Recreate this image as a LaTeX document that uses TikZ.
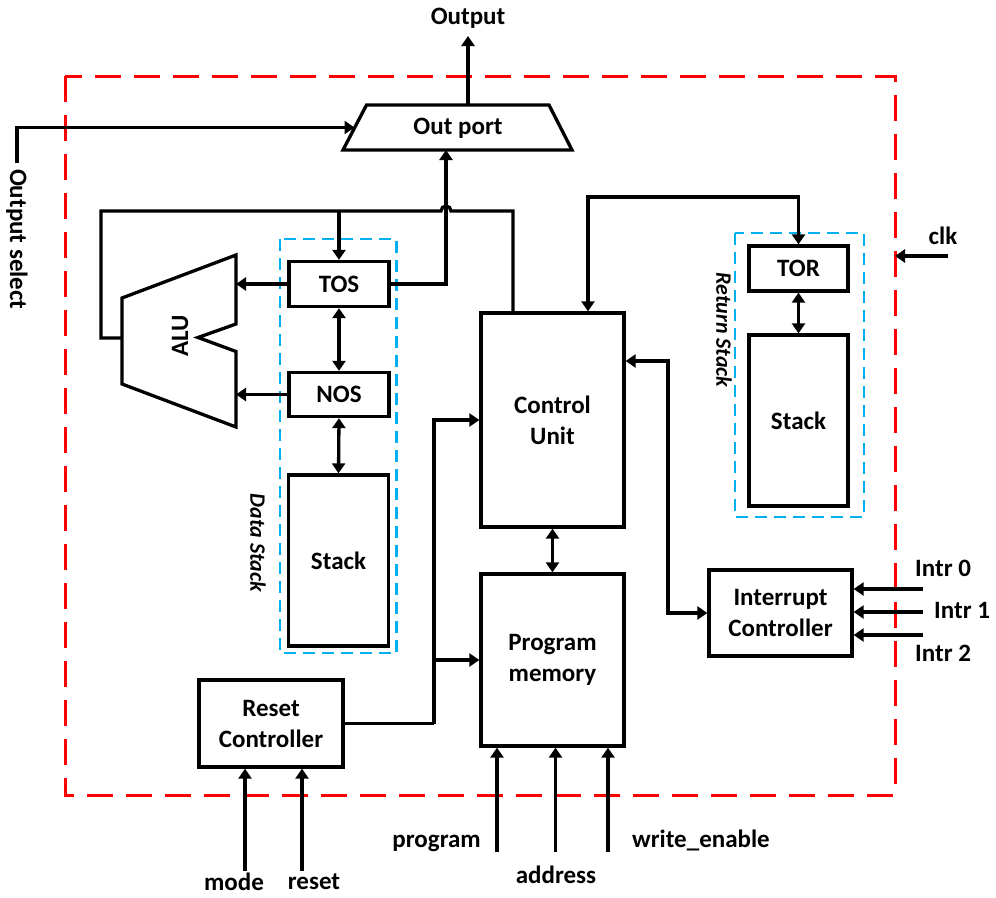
\documentclass[tikz,border=0pt]{standalone}
\usepackage{fontspec}
\setmainfont{Carlito}
\usetikzlibrary{arrows.meta}
\definecolor{dashred}{RGB}{255,0,0}
\definecolor{dashblue}{RGB}{0,176,240}
\begin{document}
\begin{tikzpicture}[x=1pt,y=-1pt,
  every node/.style={font=\fontsize{25}{31}\selectfont\bfseries, inner sep=0pt},
  box/.style={draw, line width=3.3pt, align=center},
  blk/.style={line width=3.3pt},
  >={Triangle[length=10pt,width=13pt]},
  arr/.style={blk,->},
  darr/.style={blk,<->},
  side/.style={font=\fontsize{22}{26}\selectfont\bfseries\itshape},
  redbox/.style={draw=dashred, line width=3pt, dash pattern=on 26pt off 13pt},
  bluebox/.style={draw=dashblue, line width=2.6pt, dash pattern=on 12pt off 7pt}
]
\useasboundingbox (0,0) rectangle (996,897);

% dashed frames
\draw[redbox] (65,76) rectangle (895,795);
\draw[bluebox] (280,239) rectangle (396.5,653);
\draw[bluebox] (735,233) rectangle (864,517);

% Out port
\draw[blk, line join=miter] (343,150) -- (366.5,105) -- (549,105) -- (572,150) -- cycle;
\node (outport) at (458,128) {Out port};
\coordinate (opin) at (354.5,127.5);
\coordinate (opbot) at (446,150);
\coordinate (optop) at (468,105);
\coordinate (outtip) at (468,36);
\node (outlbl) at (468,18) {Output};
\draw[arr] (optop) -- (outtip);

% Output select
\node[rotate=-90, anchor=west, outer sep=6pt] (osel) at (17,163) {Output select};
\draw[arr] (osel.west) |- (opin);

% ALU
\draw[blk, line join=miter] (236,255) -- (236,324) -- (198,337.5) -- (236,351.5) -- (236,427) -- (122,384) -- (122,298) -- cycle;
\coordinate (alutr) at (236,255);
\coordinate (aluin) at (122,338);
\node[rotate=90] (alu) at (180,336) {ALU};

% Data stack
\node[box, minimum width=100pt, minimum height=45pt] (tos) at (339,284) {TOS};
\node[box, minimum width=100pt, minimum height=44pt] (nos) at (339,394.5) {NOS};
\node[box, minimum width=100pt, minimum height=171pt] (dstk) at (338.5,560.5) {Stack};
\node[side, rotate=-90] (dslbl) at (258,543) {Data Stack};

% Control unit, program memory
\node[box, minimum width=143pt, minimum height=214pt] (cu) at (552.5,420) {Control\\Unit};
\node[box, minimum width=143pt, minimum height=172pt] (pm) at (552.5,660) {Program\\memory};

% Reset controller
\node[box, minimum width=144pt, minimum height=87pt] (rst) at (271,723.5) {Reset\\Controller};

% Interrupt controller
\node[box, minimum width=143pt, minimum height=86pt] (intc) at (780.5,613) {Interrupt\\Controller};

% Return stack
\node[box, minimum width=99pt, minimum height=45pt] (tor) at (798.5,268.5) {TOR};
\node[box, minimum width=99pt, minimum height=171pt] (rstk) at (798.5,420.5) {Stack};
\node[side, rotate=-90] (rslbl) at (724,330) {Return Stack};

% Data stack connections
\draw[arr] (tos.west) -- (tos.west -| alutr);
\draw[arr] (nos.west) -- (nos.west -| alutr);
\draw[darr] (tos.south) -- (nos.north);
\draw[darr] (nos.south) -- (dstk.north);
\draw[arr] (tos.east) -| (opbot);

% feedback loop ALU -> TOS / control unit (hop over the out-port line)
\coordinate (fbl) at (101,211);
\coordinate (fbr) at (513,211);
\coordinate (fbt) at (339,211);
\draw[blk, line join=miter] (aluin) -- (aluin -| fbl) -- (fbl) -- (441,211)
  arc[start angle=180, end angle=0, radius=5pt] -- (fbr) -- (fbr |- cu.north);
\draw[arr] (fbt) -- (tos.north);

% Control unit <-> TOR
\coordinate (tj) at (588,197);
\draw[darr] (tor.north) |- (tj) -- (tj |- cu.north);
\draw[darr] (tor.south) -- (rstk.north);

% Control unit <-> program memory
\draw[darr] (cu.south) -- (pm.north);

% Reset controller to CU and PM
\coordinate (rj) at (434,723.5);
\draw[blk] (rst.east) -- (rj);
\draw[arr] (rj) |- (cu.west);
\draw[arr] (rj |- pm.west) -- (pm.west);

% CU <-> interrupt controller
\coordinate (cuic) at (668,361);
\draw[darr] (cu.east |- cuic) -- (cuic) |- (intc.west);

% clk
\node (clk) at (943,236) {clk};
\coordinate (clkin) at (948,256);
\coordinate (clktip) at (895,256);
\draw[arr] (clkin) -- (clktip);

% interrupts
\coordinate (i0) at (923,589);
\coordinate (i1) at (923,612);
\coordinate (i2) at (923,635);
\draw[arr] (i0) -- (i0 -| intc.east);
\draw[arr] (i1) -- (i1 -| intc.east);
\draw[arr] (i2) -- (i2 -| intc.east);
\node[anchor=west] (l0) at (915,568) {Intr 0};
\node[anchor=west] (l1) at (934,610) {Intr 1};
\node[anchor=west] (l2) at (915,653) {Intr 2};

% program memory inputs
\coordinate (pp) at (497,852);
\coordinate (pa) at (555.5,852);
\coordinate (pw) at (608,852);
\draw[arr] (pp) -- (pp |- pm.south);
\draw[arr] (pa) -- (pa |- pm.south);
\draw[arr] (pw) -- (pw |- pm.south);
\node[anchor=east] (lp) at (481,843) {program};
\node (la) at (556,875) {address};
\node[anchor=west] (lw) at (632,840) {write\_enable};

% reset controller inputs
\coordinate (pmode) at (245,871);
\coordinate (preset) at (302,871);
\draw[arr] (pmode) -- (pmode |- rst.south);
\draw[arr] (preset) -- (preset |- rst.south);
\node (lmode) at (234,882) {mode};
\node (lreset) at (314,882) {reset};
\end{tikzpicture}
\end{document}
